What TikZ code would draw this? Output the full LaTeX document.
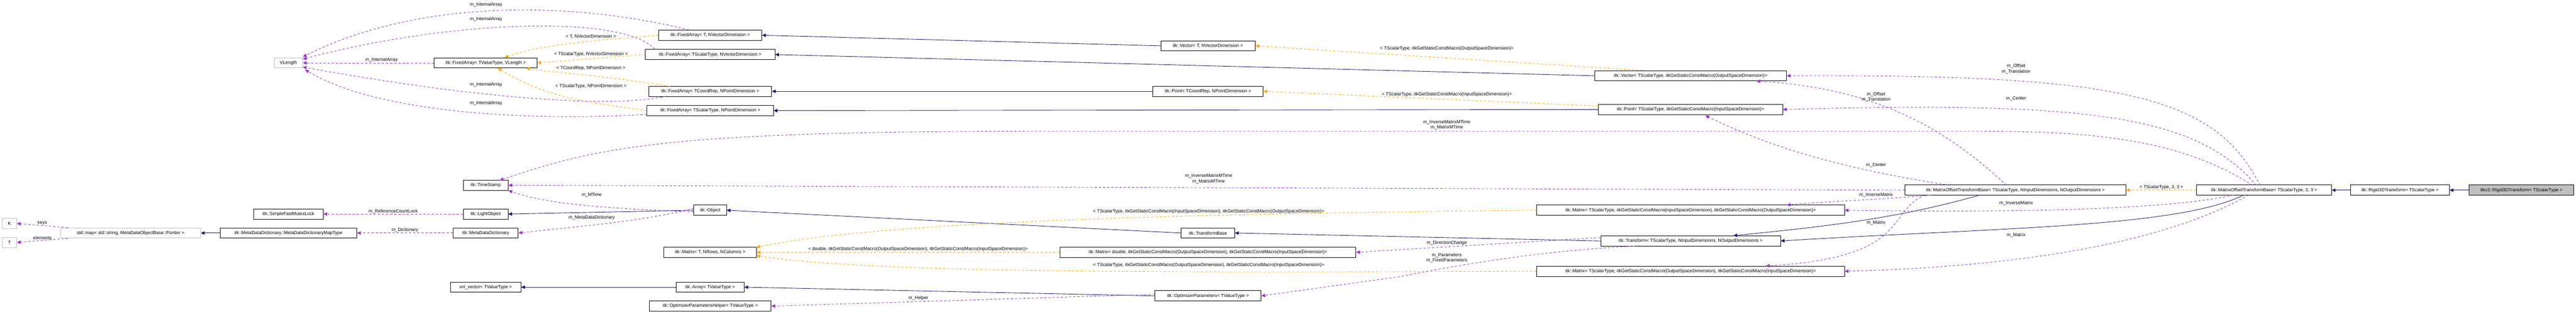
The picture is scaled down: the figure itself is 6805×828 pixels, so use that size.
\documentclass[tikz,border=0pt]{standalone}
\usepackage{fontspec}
\setmainfont{Liberation Sans}
\usetikzlibrary{arrows.meta}
\definecolor{inh}{HTML}{191970}
\definecolor{use}{HTML}{9A32CD}
\definecolor{tpl}{HTML}{FFA500}
\begin{document}
\begin{tikzpicture}[x=1pt,y=-1pt,
  box/.style={draw=black,line width=1.2pt,fill=white,minimum height=27pt,inner sep=1pt,font=\fontsize{12}{14}\selectfont},
  gbox/.style={box,draw=black!25},
  lbl/.style={font=\fontsize{12}{14}\selectfont,inner sep=1pt,align=center},
  inhE/.style={draw=inh,line width=1.2pt,-{Triangle[length=10pt,width=9pt]}},
  useE/.style={draw=use,line width=1.2pt,dash pattern=on 6pt off 5pt,-{Triangle[length=10pt,width=9pt,fill=use]}},
  tplE/.style={draw=tpl,line width=1.2pt,dash pattern=on 6pt off 5pt,-{Triangle[length=10pt,width=9pt,fill=tpl]}}]
\useasboundingbox (0,0) rectangle (6805,828);
% nodes
\node[gbox,minimum width=75] (vl) at (762,166) {VLength};
\node[gbox,minimum width=38] (K) at (25,590) {K};
\node[gbox,minimum width=38] (T) at (25,640) {T};
\node[gbox,minimum width=370] (map) at (345,615) {std::map< std::string, MetaDataObjectBase::Pointer >};
\node[box,minimum width=183] (mutex) at (762,565) {itk::SimpleFastMutexLock};
\node[box,minimum width=361] (mapt) at (762,615) {itk::MetaDataDictionary::MetaDataDictionaryMapType};
\node[box,minimum width=273] (faTN) at (1876,93) {itk::FixedArray< T, NVectorDimension >};
\node[box,minimum width=342] (faSN) at (1876,144) {itk::FixedArray< TScalarType, NVectorDimension >};
\node[box,minimum width=272] (faV) at (1283,166) {itk::FixedArray< TValueType, VLength >};
\node[box,minimum width=325] (faCP) at (1876,241) {itk::FixedArray< TCoordRep, NPointDimension >};
\node[box,minimum width=334] (faSP) at (1876,292) {itk::FixedArray< TScalarType, NPointDimension >};
\node[box,minimum width=119] (ts) at (1283,489) {itk::TimeStamp};
\node[box,minimum width=118] (lo) at (1283,565) {itk::LightObject};
\node[box,minimum width=172] (mdd) at (1283,615) {itk::MetaDataDictionary};
\node[box,minimum width=86] (obj) at (1876,555) {itk::Object};
\node[box,minimum width=245] (mT) at (1876,666) {itk::Matrix< T, NRows, NColumns >};
\node[box,minimum width=186] (vnl) at (1283,758) {vnl\_vector< TValueType >};
\node[box,minimum width=179] (arr) at (1876,758) {itk::Array< TValueType >};
\node[box,minimum width=322] (oph) at (1876,808) {itk::OptimizerParametersHelper< TValueType >};
\node[box,minimum width=782] (mD) at (3191,666) {itk::Matrix< double, itkGetStaticConstMacro(OutputSpaceDimension), itkGetStaticConstMacro(InputSpaceDimension)>};
\node[box,minimum width=249] (vT) at (3191,121) {itk::Vector< T, NVectorDimension >};
\node[box,minimum width=291] (pC) at (3191,241) {itk::Point< TCoordRep, NPointDimension >};
\node[box,minimum width=141] (tb) at (3191,615) {itk::TransformBase};
\node[box,minimum width=281] (op) at (3191,781) {itk::OptimizerParameters< TValueType >};
\node[box,minimum width=507] (vS) at (4466,200) {itk::Vector< TScalarType, itkGetStaticConstMacro(OutputSpaceDimension)>};
\node[box,minimum width=486] (pS) at (4466,289) {itk::Point< TScalarType, itkGetStaticConstMacro(InputSpaceDimension)>};
\node[box,minimum width=813] (mIO) at (4466,555) {itk::Matrix< TScalarType, itkGetStaticConstMacro(InputSpaceDimension), itkGetStaticConstMacro(OutputSpaceDimension)>};
\node[box,minimum width=475] (tr) at (4466,636) {itk::Transform< TScalarType, NInputDimensions, NOutputDimensions >};
\node[box,minimum width=813] (mOI) at (4466,716) {itk::Matrix< TScalarType, itkGetStaticConstMacro(OutputSpaceDimension), itkGetStaticConstMacro(InputSpaceDimension)>};
\node[box,minimum width=584] (moN) at (5324,502) {itk::MatrixOffsetTransformBase< TScalarType, NInputDimensions, NOutputDimensions >};
\node[box,minimum width=356] (mo3) at (5981,502) {itk::MatrixOffsetTransformBase< TScalarType, 3, 3 >};
\node[box,minimum width=261] (r3) at (6340,502) {itk::Rigid3DTransform< TScalarType >};
\node[box,fill=black!25,minimum width=276] (v3) at (6661,502) {itkv3::Rigid3DTransform< TScalarType >};
% left cluster
\draw[useE] (map.north west) ++(20,0) -- (K.east) node[lbl,pos=0.5,above]{keys};
\draw[useE] (map.south west) ++(20,0) -- (T.east) node[lbl,pos=0.5,above]{elements};
\draw[inhE] (mapt) -- (map);
\draw[useE] (mdd) -- (mapt) node[lbl,pos=0.5,above]{m\_Dictionary};
\draw[useE] (lo) -- (mutex) node[lbl,pos=0.5,above]{m\_ReferenceCountLock};
\draw[inhE] (obj.west) -- (lo.east);
\draw[useE] ([yshift=-4]obj.west) .. controls (1600,550) and (1450,540) .. (ts.south east) ;
\node[lbl] at (1563,515) {m\_MTime};
\draw[useE] ([yshift=5]obj.west) .. controls (1700,585) and (1500,600) .. (mdd.east);
\node[lbl] at (1563,575) {m\_MetaDataDictionary};
% VLength
\draw[useE] (1820,79) .. controls (1500,0) and (1100,0) .. (800,150);
\node[lbl,fill=white] at (1284,13) {m\_InternalArray};
\draw[useE] (1730,130) .. controls (1650,40) and (1200,50) .. (800,156);
\node[lbl,fill=white] at (1284,51) {m\_InternalArray};
\draw[useE] (faV) -- (vl) node[lbl,pos=0.4,above]{m\_InternalArray};
\draw[useE] (1760,254) .. controls (1600,290) and (1200,250) .. (800,177);
\node[lbl,fill=white] at (1284,223) {m\_InternalArray};
\draw[useE] (1708,302) .. controls (1400,320) and (1000,300) .. (806,184);
\node[lbl,fill=white] at (1284,272) {m\_InternalArray};
% orange to faV
\draw[tplE] (faTN.west) .. controls (1550,108) and (1420,120) .. (1333,152);
\node[lbl] at (1561,96) {< T, NVectorDimension >};
\draw[tplE] (faSN.west) -- (faV.east);
\node[lbl] at (1561,143) {< TScalarType, NVectorDimension >};
\draw[tplE] (1770,228) .. controls (1600,200) and (1450,190) .. (1390,180);
\node[lbl] at (1561,180) {< TCoordRep, NPointDimension >};
\draw[tplE] (faSP.west) .. controls (1550,270) and (1450,260) .. (1315,180);
\node[lbl] at (1561,228) {< TScalarType, NPointDimension >};
% inheritance
\draw[inhE] (vT.west) -- (faTN.east);
\draw[inhE] (vS.west) -- (faSN.east);
\draw[inhE] (pC.west) -- (faCP.east);
\draw[inhE] (pS.west) -- (faSP.east);
\draw[inhE] (tb.west) -- (obj.east);
\draw[inhE] (tr.west) -- (tb.east);
\draw[inhE] (op.west) -- (arr.east);
\draw[inhE] (arr.west) -- (vnl.east);
\draw[inhE] (r3) -- (mo3);
\draw[inhE] (v3) -- (r3);
\draw[inhE] (5230,515) .. controls (5000,580) and (4800,600) .. (4579,622);
\draw[inhE] (5927,515) .. controls (5750,600) and (5300,600) .. (tr.east);
% orange templates
\draw[tplE] (4340,186) -- (vT.east);
\node[lbl] at (3822,128) {< TScalarType, itkGetStaticConstMacro(OutputSpaceDimension)>};
\draw[tplE] (4223,280) -- (pC.east);
\node[lbl] at (3822,250) {< TScalarType, itkGetStaticConstMacro(InputSpaceDimension)>};
\draw[tplE] (mIO.west) .. controls (3000,565) and (2300,590) .. (1998,653);
\node[lbl] at (3193,558) {< TScalarType, itkGetStaticConstMacro(InputSpaceDimension), itkGetStaticConstMacro(OutputSpaceDimension)>};
\draw[tplE] (mD.west) -- (mT.east);
\node[lbl] at (2425,658) {< double, itkGetStaticConstMacro(OutputSpaceDimension), itkGetStaticConstMacro(InputSpaceDimension)>};
\draw[tplE] (mOI.west) .. controls (3000,720) and (2300,720) .. (1998,675);
\node[lbl] at (3193,700) {< TScalarType, itkGetStaticConstMacro(OutputSpaceDimension), itkGetStaticConstMacro(InputSpaceDimension)>};
\draw[tplE] (mo3) -- (moN) node[lbl,pos=0.5,above]{< TScalarType, 3, 3 >};
% transform usage
\draw[useE] ([yshift=9]tr.west) -- (mD.east);
\node[lbl] at (3822,642) {m\_DirectionChange};
\draw[useE] (4330,649) .. controls (4100,660) and (3900,690) .. (3700,730) -- (op.east);
\node[lbl] at (3822,681) {m\_Parameters\\m\_FixedParameters};
\draw[useE] ([yshift=4]op.west) -- (oph.east);
\node[lbl] at (2426,787) {m\_Helper};
% timestamps
\draw[useE] (5950,489) .. controls (5750,360) and (5500,346) .. (5200,346) -- (2800,346) .. controls (1800,346) and (1600,380) .. (1320,476);
\node[lbl] at (3822,330) {m\_InverseMatrixMTime\\m\_MatrixMTime};
\draw[useE] (moN.west) -- (ts.east);
\node[lbl] at (3193,472) {m\_InverseMatrixMTime\\m\_MatrixMTime};
% MOTB usage
\draw[useE] (5970,489) .. controls (5850,250) and (5600,196) .. (vS.east);
\node[lbl] at (5326,182) {m\_Offset\\m\_Translation};
\draw[useE] (5300,489) .. controls (5100,300) and (4900,230) .. (4640,214);
\node[lbl] at (4956,256) {m\_Offset\\m\_Translation};
\draw[useE] (5960,489) .. controls (5800,300) and (5500,268) .. (pS.east);
\node[lbl] at (5326,261) {m\_Center};
\draw[useE] (5150,489) .. controls (4900,450) and (4700,400) .. (4505,305);
\node[lbl] at (4956,436) {m\_Center};
\draw[useE] (5100,515) .. controls (5000,525) and (4850,530) .. (4720,541);
\node[lbl] at (4956,515) {m\_InverseMatrix};
\draw[useE] (5900,515) .. controls (5700,560) and (5200,560) .. (mIO.east);
\node[lbl] at (5326,536) {m\_InverseMatrix};
\draw[useE] (5085,515) .. controls (4980,560) and (5050,680) .. (4665,702);
\node[lbl] at (4956,588) {m\_Matrix};
\draw[useE] (5940,515) .. controls (5700,650) and (5300,705) .. (mOI.east);
\node[lbl] at (5326,621) {m\_Matrix};
\end{tikzpicture}
\end{document}
